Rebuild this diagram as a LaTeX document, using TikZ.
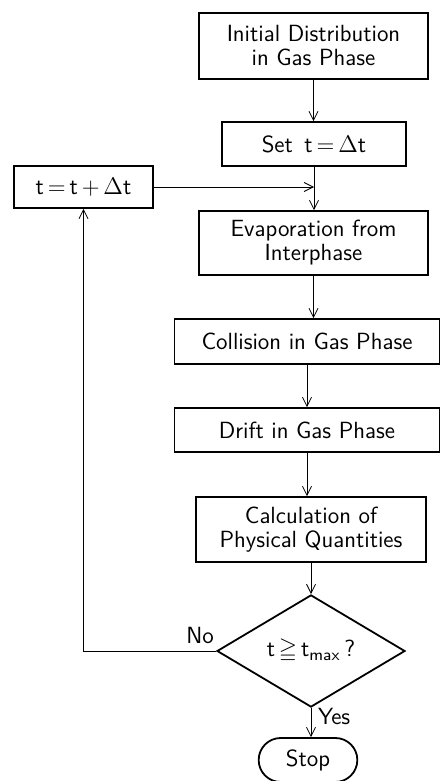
\documentclass[tikz,border=0pt]{standalone}
\usepackage{amssymb}
\usetikzlibrary{arrows.meta,shapes.geometric,shapes.misc}
\begin{document}
\begin{tikzpicture}[x=0.5pt, y=-0.5pt, >={Straight Barb[length=4.5pt,width=4.5pt]},
  font=\sffamily\fontsize{11.7}{12}\selectfont,
  box/.style={draw, rectangle, line width=0.9pt, align=center, inner sep=0pt},
  link/.style={->, line width=0.4pt}]
\useasboundingbox (0,0) rectangle (441,781);
\node[box, minimum width=114.5pt, minimum height=33pt] (init) at (313.5,46) {Initial Distribution\\in Gas Phase};
\node[box, minimum width=92pt, minimum height=22pt] (set) at (314,144) {Set \,t\,=\,$\Delta$t};
\node[box, minimum width=69.5pt, minimum height=21pt] (incr) at (83.5,187) {t\,=\,t\,+\,$\Delta$t};
\node[box, minimum width=114.5pt, minimum height=32pt] (evap) at (313.5,243) {Evaporation from\\Interphase};
\node[box, minimum width=132.5pt, minimum height=22.5pt] (coll) at (307,341.5) {Collision in Gas Phase};
\node[box, minimum width=132.5pt, minimum height=22pt] (drift) at (307,430) {Drift in Gas Phase};
\node[box, minimum width=115pt, minimum height=32.5pt] (calc) at (311,529.5) {Calculation of\\Physical Quantities};
\node[draw, diamond, line width=0.9pt, minimum width=94pt, minimum height=44pt, inner sep=0pt] (test) at (311,651) {t\,$\geqq$\,t\textsubscript{max}\,?};
\node[draw, rounded rectangle, line width=0.9pt, minimum width=56pt, minimum height=22pt] (stop) at (308,760) {Stop};
\coordinate (join) at (set.south |- incr.east);

\draw[link] (init) -- (init |- set.north);
\draw[link] (set) -- (set |- evap.north);
\draw[link] (incr) -- (join);
\draw[link] (evap) -- (evap |- coll.north);
\draw[link] (coll) -- (coll |- drift.north);
\draw[link] (drift) -- (drift |- calc.north);
\draw[link] (calc) -- (calc |- test.north);
\draw[link] (test) -- node[right, pos=0.3] {Yes} (test |- stop.north);
\draw[link] (test.west) -- node[above, pos=0.12] {No} (incr |- test.west) -- (incr);
\end{tikzpicture}
\end{document}
